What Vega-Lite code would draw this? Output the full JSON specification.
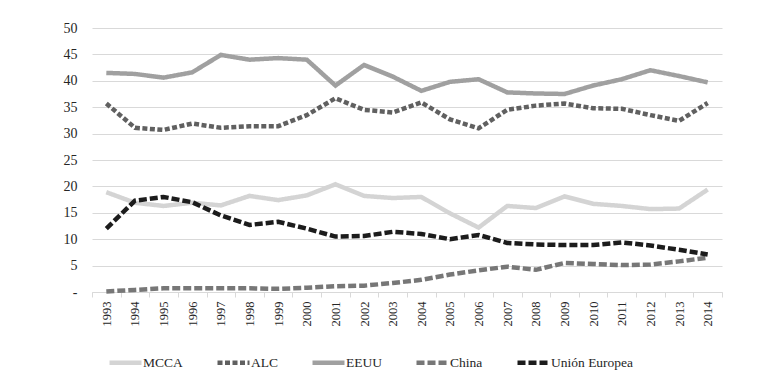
{
  "$schema": "https://vega.github.io/schema/vega-lite/v6.json",
  "width": 630,
  "height": 264,
  "autosize": {"type": "none"},
  "padding": {"left": 92, "top": 28, "right": 47, "bottom": 85},
  "background": "white",
  "config": {
    "font": "Liberation Serif",
    "view": {"stroke": null},
    "axis": {"labelFont": "Liberation Serif"},
    "legend": {"labelFont": "Liberation Serif", "labelFontSize": 13.5},
    "style": {"guide-label": {"font": "Liberation Serif"}}
  },
  "datasets": {
    "series": [
      {"year": "1993", "serie": "MCCA", "value": 18.9},
      {"year": "1994", "serie": "MCCA", "value": 16.9},
      {"year": "1995", "serie": "MCCA", "value": 16.3},
      {"year": "1996", "serie": "MCCA", "value": 16.9},
      {"year": "1997", "serie": "MCCA", "value": 16.4},
      {"year": "1998", "serie": "MCCA", "value": 18.2},
      {"year": "1999", "serie": "MCCA", "value": 17.4},
      {"year": "2000", "serie": "MCCA", "value": 18.3},
      {"year": "2001", "serie": "MCCA", "value": 20.4},
      {"year": "2002", "serie": "MCCA", "value": 18.2},
      {"year": "2003", "serie": "MCCA", "value": 17.8},
      {"year": "2004", "serie": "MCCA", "value": 18.0},
      {"year": "2005", "serie": "MCCA", "value": 14.9},
      {"year": "2006", "serie": "MCCA", "value": 12.2},
      {"year": "2007", "serie": "MCCA", "value": 16.3},
      {"year": "2008", "serie": "MCCA", "value": 15.9},
      {"year": "2009", "serie": "MCCA", "value": 18.1},
      {"year": "2010", "serie": "MCCA", "value": 16.7},
      {"year": "2011", "serie": "MCCA", "value": 16.3},
      {"year": "2012", "serie": "MCCA", "value": 15.7},
      {"year": "2013", "serie": "MCCA", "value": 15.8},
      {"year": "2014", "serie": "MCCA", "value": 19.4},
      {"year": "1993", "serie": "ALC", "value": 35.7},
      {"year": "1994", "serie": "ALC", "value": 31.1},
      {"year": "1995", "serie": "ALC", "value": 30.7},
      {"year": "1996", "serie": "ALC", "value": 31.9},
      {"year": "1997", "serie": "ALC", "value": 31.1},
      {"year": "1998", "serie": "ALC", "value": 31.4},
      {"year": "1999", "serie": "ALC", "value": 31.4},
      {"year": "2000", "serie": "ALC", "value": 33.5},
      {"year": "2001", "serie": "ALC", "value": 36.7},
      {"year": "2002", "serie": "ALC", "value": 34.5},
      {"year": "2003", "serie": "ALC", "value": 34.0},
      {"year": "2004", "serie": "ALC", "value": 35.9},
      {"year": "2005", "serie": "ALC", "value": 32.7},
      {"year": "2006", "serie": "ALC", "value": 31.0},
      {"year": "2007", "serie": "ALC", "value": 34.5},
      {"year": "2008", "serie": "ALC", "value": 35.3},
      {"year": "2009", "serie": "ALC", "value": 35.7},
      {"year": "2010", "serie": "ALC", "value": 34.8},
      {"year": "2011", "serie": "ALC", "value": 34.7},
      {"year": "2012", "serie": "ALC", "value": 33.5},
      {"year": "2013", "serie": "ALC", "value": 32.4},
      {"year": "2014", "serie": "ALC", "value": 35.8},
      {"year": "1993", "serie": "EEUU", "value": 41.5},
      {"year": "1994", "serie": "EEUU", "value": 41.3},
      {"year": "1995", "serie": "EEUU", "value": 40.6},
      {"year": "1996", "serie": "EEUU", "value": 41.6},
      {"year": "1997", "serie": "EEUU", "value": 44.9},
      {"year": "1998", "serie": "EEUU", "value": 44.0},
      {"year": "1999", "serie": "EEUU", "value": 44.3},
      {"year": "2000", "serie": "EEUU", "value": 44.0},
      {"year": "2001", "serie": "EEUU", "value": 39.1},
      {"year": "2002", "serie": "EEUU", "value": 43.0},
      {"year": "2003", "serie": "EEUU", "value": 40.8},
      {"year": "2004", "serie": "EEUU", "value": 38.1},
      {"year": "2005", "serie": "EEUU", "value": 39.8},
      {"year": "2006", "serie": "EEUU", "value": 40.3},
      {"year": "2007", "serie": "EEUU", "value": 37.8},
      {"year": "2008", "serie": "EEUU", "value": 37.6},
      {"year": "2009", "serie": "EEUU", "value": 37.5},
      {"year": "2010", "serie": "EEUU", "value": 39.1},
      {"year": "2011", "serie": "EEUU", "value": 40.3},
      {"year": "2012", "serie": "EEUU", "value": 42.0},
      {"year": "2013", "serie": "EEUU", "value": 40.9},
      {"year": "2014", "serie": "EEUU", "value": 39.7},
      {"year": "1993", "serie": "China", "value": 0.1},
      {"year": "1994", "serie": "China", "value": 0.4},
      {"year": "1995", "serie": "China", "value": 0.7},
      {"year": "1996", "serie": "China", "value": 0.7},
      {"year": "1997", "serie": "China", "value": 0.7},
      {"year": "1998", "serie": "China", "value": 0.7},
      {"year": "1999", "serie": "China", "value": 0.6},
      {"year": "2000", "serie": "China", "value": 0.8},
      {"year": "2001", "serie": "China", "value": 1.1},
      {"year": "2002", "serie": "China", "value": 1.2},
      {"year": "2003", "serie": "China", "value": 1.7},
      {"year": "2004", "serie": "China", "value": 2.3},
      {"year": "2005", "serie": "China", "value": 3.3},
      {"year": "2006", "serie": "China", "value": 4.1},
      {"year": "2007", "serie": "China", "value": 4.8},
      {"year": "2008", "serie": "China", "value": 4.2},
      {"year": "2009", "serie": "China", "value": 5.5},
      {"year": "2010", "serie": "China", "value": 5.3},
      {"year": "2011", "serie": "China", "value": 5.1},
      {"year": "2012", "serie": "China", "value": 5.2},
      {"year": "2013", "serie": "China", "value": 5.8},
      {"year": "2014", "serie": "China", "value": 6.5},
      {"year": "1993", "serie": "Unión Europea", "value": 12.0},
      {"year": "1994", "serie": "Unión Europea", "value": 17.3},
      {"year": "1995", "serie": "Unión Europea", "value": 18.0},
      {"year": "1996", "serie": "Unión Europea", "value": 17.0},
      {"year": "1997", "serie": "Unión Europea", "value": 14.5},
      {"year": "1998", "serie": "Unión Europea", "value": 12.7},
      {"year": "1999", "serie": "Unión Europea", "value": 13.3},
      {"year": "2000", "serie": "Unión Europea", "value": 12.0},
      {"year": "2001", "serie": "Unión Europea", "value": 10.5},
      {"year": "2002", "serie": "Unión Europea", "value": 10.6},
      {"year": "2003", "serie": "Unión Europea", "value": 11.4},
      {"year": "2004", "serie": "Unión Europea", "value": 11.0},
      {"year": "2005", "serie": "Unión Europea", "value": 10.0},
      {"year": "2006", "serie": "Unión Europea", "value": 10.8},
      {"year": "2007", "serie": "Unión Europea", "value": 9.3},
      {"year": "2008", "serie": "Unión Europea", "value": 9.0},
      {"year": "2009", "serie": "Unión Europea", "value": 8.9},
      {"year": "2010", "serie": "Unión Europea", "value": 8.9},
      {"year": "2011", "serie": "Unión Europea", "value": 9.4},
      {"year": "2012", "serie": "Unión Europea", "value": 8.8},
      {"year": "2013", "serie": "Unión Europea", "value": 8.0},
      {"year": "2014", "serie": "Unión Europea", "value": 7.1}
    ]
  },
  "data": {"name": "series"},
  "mark": {"type": "line", "strokeWidth": 4.5},
  "encoding": {
    "x": {
      "field": "year",
      "type": "ordinal",
      "bandPosition": 0.5,
      "scale": {"type": "band", "paddingInner": 0, "paddingOuter": 0},
      "axis": {
        "title": null,
        "labelAngle": -90,
        "tickBand": "extent",
        "grid": false,
        "domainColor": "#d9d9d9",
        "tickColor": "#d9d9d9",
        "tickSize": 5,
        "labelFont": "Liberation Serif",
        "labelFontSize": 12.5,
        "labelPadding": 4,
        "labelColor": "#262626"
      }
    },
    "y": {
      "field": "value",
      "type": "quantitative",
      "scale": {"domain": [0, 50]},
      "axis": {
        "title": null,
        "values": [0, 5, 10, 15, 20, 25, 30, 35, 40, 45, 50],
        "domain": false,
        "ticks": false,
        "gridColor": "#d9d9d9",
        "labelFont": "Liberation Serif",
        "labelFontSize": 14,
        "labelPadding": 15,
        "labelColor": "#262626",
        "labelExpr": "datum.value === 0 ? '-' : datum.label"
      }
    },
    "color": {
      "field": "serie",
      "type": "nominal",
      "scale": {
        "domain": ["MCCA", "ALC", "EEUU", "China", "Unión Europea"],
        "range": ["#d4d4d4", "#606060", "#a0a0a0", "#777777", "#1c1c1c"]
      },
      "legend": {
        "title": null,
        "orient": "none",
        "legendX": 15,
        "legendY": 316,
        "direction": "horizontal",
        "symbolType": "stroke",
        "symbolSize": 1024,
        "symbolStrokeWidth": 4,
        "labelOffset": -1,
        "columnPadding": 25,
        "labelFont": "Liberation Serif",
        "labelFontSize": 13.5,
        "labelColor": "#262626",
        "labelLimit": 200
      }
    },
    "strokeDash": {
      "field": "serie",
      "type": "nominal",
      "scale": {
        "domain": ["MCCA", "ALC", "EEUU", "China", "Unión Europea"],
        "range": [[1, 0], [5, 2.5], [1, 0], [8, 3], [8, 3]]
      },
      "legend": null
    },
    "strokeWidth": {
      "field": "serie",
      "type": "nominal",
      "scale": {
        "domain": ["MCCA", "ALC", "EEUU", "China", "Unión Europea"],
        "range": [4.5, 4.5, 4.5, 4.5, 5.5]
      },
      "legend": null
    }
  }
}
